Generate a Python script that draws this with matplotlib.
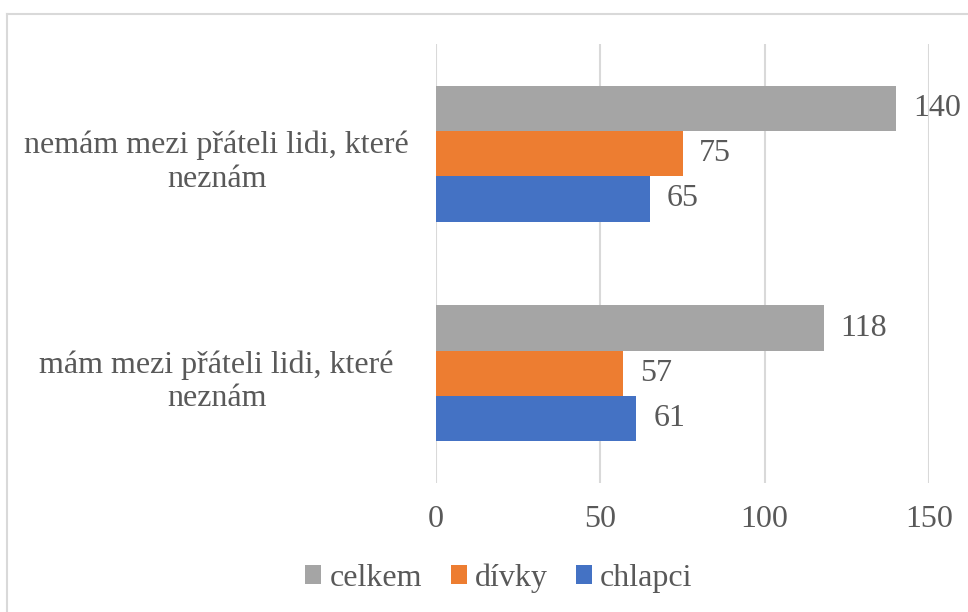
import matplotlib.pyplot as plt
import numpy as np
from matplotlib.lines import Line2D

categories = ["mám mezi přáteli lidi, které\nneznám",
              "nemám mezi přáteli lidi, které\nneznám"]
series = ["celkem", "dívky", "chlapci"]
celkem = [118, 140]
divky = [57, 75]
chlapci = [61, 65]
colors = ["#A5A5A5", "#ED7D31", "#4472C4"]

plt.rcParams["font.family"] = ["Liberation Serif", "DejaVu Serif"]
text_color = "#595959"
fs = 23

W, H = 968, 612
fig = plt.figure(figsize=(W / 100, H / 100), dpi=100)
ax = fig.add_axes([436 / W, 1 - 483 / H, (929 - 436) / W, (483 - 44) / H])

y = np.arange(len(categories))
h = 0.206
offsets = [h, 0, -h]
for vals, name, col, off in zip([celkem, divky, chlapci], series, colors, offsets):
    bars = ax.barh(y + off, vals, height=h, color=col, label=name, zorder=3)
    ax.bar_label(bars, padding=12, fontsize=fs, color=text_color)

ax.set_xlim(0, 150)
ax.set_ylim(-0.5, 1.5)
ax.set_xticks([0, 50, 100, 150])
ax.set_yticks(y - 0.012)
ax.set_yticklabels(categories, ha="center", fontsize=fs, color=text_color,
                   linespacing=1.2)
ax.tick_params(axis="y", length=0, pad=158)
ax.tick_params(axis="x", length=0, pad=16, labelsize=fs, labelcolor=text_color)
ax.grid(axis="x", color="#D9D9D9", linewidth=1.5, zorder=0)
for s in ax.spines.values():
    s.set_visible(False)

handles, labels = ax.get_legend_handles_labels()
fig.legend(handles, labels, loc="center", bbox_to_anchor=(499 / W, 1 - 578 / H),
           ncol=3, frameon=False, fontsize=fs, labelcolor=text_color,
           handlelength=0.5, handleheight=0.5, handletextpad=0.25,
           columnspacing=0.9)

# light frame of the chart area (only top and left edges fall inside the image)
fig.add_artist(Line2D([7 / W, 1], [1 - 14 / H, 1 - 14 / H], transform=fig.transFigure,
                      color="#D9D9D9", linewidth=1.5))
fig.add_artist(Line2D([7 / W, 7 / W], [0, 1 - 14 / H], transform=fig.transFigure,
                      color="#D9D9D9", linewidth=1.5))

fig.savefig("out.png", dpi=100)
